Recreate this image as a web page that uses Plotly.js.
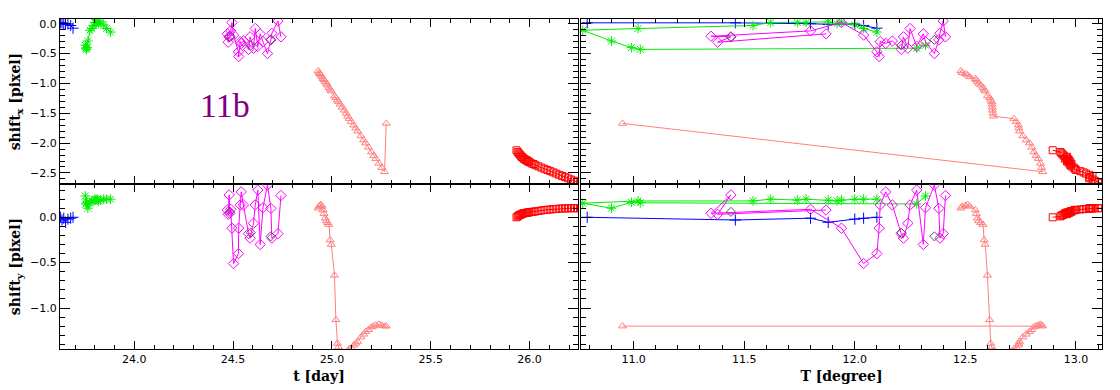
<!DOCTYPE html>
<html><head><meta charset="utf-8">
<script src="https://cdn.plot.ly/plotly-3.0.1.min.js"></script>
<style>html,body{margin:0;padding:0;background:#fff}#chart{width:1120px;height:390px}</style>
</head><body><div id="chart"></div>
<script>
// ---- blue (+) ----
const blueDay = [23.626, 23.634, 23.643, 23.652, 23.664, 23.678, 23.690];
const blueDeg = [10.79, 11.46, 11.80, 11.88, 12.00, 12.04, 12.10];
const blueSx  = [0.015, 0.015, 0.00, -0.01, -0.005, -0.03, -0.075];
const blueSy  = [0.00, -0.03, -0.01, -0.055, -0.02, -0.01, 0.00];

// ---- green (*) ----
const greenDay = [23.752, 23.755, 23.758, 23.761, 23.765, 23.775, 23.785, 23.795, 23.800, 23.805, 23.810, 23.815, 23.820, 23.830, 23.845, 23.860, 23.880];
const greenDeg = [12.32, 12.28, 11.03, 10.99, 10.90, 10.77, 11.02, 11.54, 11.62, 11.74, 11.78, 11.88, 11.92, 11.94, 12.00, 12.04, 12.10];
const greenSx  = [-0.36, -0.41, -0.43, -0.40, -0.29, -0.11, -0.08, -0.03, 0.02, 0.02, 0.02, 0.03, 0.00, 0.03, -0.02, -0.08, -0.14];
const greenSy  = [0.235, 0.147, 0.16, 0.165, 0.10, 0.155, 0.18, 0.18, 0.20, 0.19, 0.20, 0.19, 0.18, 0.19, 0.20, 0.20, 0.20];

// ---- magenta (diamond) ----
const magDay = [24.471, 24.475, 24.480, 24.483, 24.488, 24.494, 24.502, 24.527, 24.528, 24.536, 24.541, 24.552, 24.578, 24.586, 24.603, 24.612, 24.625, 24.637, 24.651, 24.674, 24.691, 24.696, 24.727, 24.742];
const magDeg = [11.87, 11.38, 11.44, 11.35, 11.80, 11.94, 12.04, 12.10, 12.11, 12.115, 12.14, 12.17, 12.21, 12.22, 12.24, 12.25, 12.28, 12.31, 12.32, 12.36, 12.38, 12.385, 12.40, 12.41];
const magSx  = [-0.17, -0.31, -0.22, -0.21, -0.12, 0.02, -0.19, -0.47, -0.55, -0.30, -0.33, -0.29, -0.43, -0.22, -0.41, -0.08, -0.38, -0.17, -0.30, -0.50, -0.27, -0.16, 0.045, -0.22];
const magSy  = [0.08, 0.033, 0.246, 0.044, 0.088, -0.12, -0.51, -0.40, -0.12, 0.136, 0.28, 0.136, -0.18, -0.23, -0.066, 0.136, 0.30, -0.30, 0.106, 0.356, 0.098, -0.23, -0.18, 0.24];

// ---- dark grey (diamond) ----
const grayDay = [24.484, 24.590, 24.690];
const grayDeg = [11.44, 12.21, 12.36];
const graySx  = [-0.22, -0.36, -0.27];
const graySy  = [0.06, -0.17, -0.21];

// ---- salmon (triangle) ----
const salDay = [24.930, 24.935, 24.940, 24.944, 24.950, 24.955, 24.960, 24.966, 24.972, 24.978, 24.985, 24.991, 24.997, 25.013, 25.020, 25.028, 25.033, 25.042, 25.052, 25.062, 25.072, 25.080, 25.088, 25.098, 25.110, 25.120, 25.130, 25.147, 25.160, 25.171, 25.185, 25.200, 25.212, 25.222, 25.238, 25.252, 25.266, 25.275];
const salDeg = [12.48, 12.485, 12.50, 12.51, 12.52, 12.545, 12.55, 12.555, 12.56, 12.57, 12.58, 12.585, 12.59, 12.60, 12.61, 12.615, 12.62, 12.62, 12.622, 12.623, 12.625, 12.627, 12.72, 12.73, 12.74, 12.742, 12.745, 12.76, 12.775, 12.79, 12.80, 12.81, 12.82, 12.83, 12.84, 12.845, 12.85, 10.95];
const salSx  = [-0.79, -0.82, -0.84, -0.86, -0.89, -0.92, -0.94, -0.97, -1.00, -1.03, -1.07, -1.10, -1.13, -1.21, -1.24, -1.28, -1.31, -1.35, -1.40, -1.45, -1.50, -1.55, -1.59, -1.64, -1.70, -1.75, -1.80, -1.88, -1.95, -2.00, -2.07, -2.15, -2.21, -2.26, -2.34, -2.41, -2.48, -1.67];
const salSy  = [0.10, 0.12, 0.13, 0.14, 0.12, 0.08, 0.04, -0.01, -0.04, -0.06, -0.08, -0.25, -0.30, -0.64, -1.13, -1.39, -1.43, -1.49, -1.52, -1.51, -1.49, -1.47, -1.45, -1.44, -1.41, -1.39, -1.37, -1.32, -1.29, -1.26, -1.24, -1.21, -1.20, -1.19, -1.18, -1.19, -1.20, -1.20];

// ---- red (square) ----
const redDay = [25.934, 25.940, 25.945, 25.950, 25.955, 25.960, 25.965, 25.970, 25.975, 25.980, 25.985, 25.990, 25.995, 26.000, 26.010, 26.020, 26.030, 26.045, 26.060, 26.075, 26.090, 26.105, 26.120, 26.135, 26.150, 26.165, 26.180, 26.195, 26.210, 26.225, 26.240, 26.255];
const redDeg = [12.895, 12.93, 12.935, 12.94, 12.945, 12.96, 12.955, 12.95, 12.965, 12.96, 12.97, 12.965, 12.96, 12.975, 12.97, 12.98, 12.975, 12.98, 12.99, 12.995, 13.00, 13.02, 13.035, 13.045, 13.06, 13.075, 13.065, 13.06, 13.075, 13.085, 13.10, 13.115];
const redSx  = [-2.12, -2.15, -2.17, -2.19, -2.21, -2.23, -2.24, -2.26, -2.27, -2.28, -2.29, -2.30, -2.31, -2.32, -2.34, -2.35, -2.37, -2.39, -2.41, -2.43, -2.45, -2.47, -2.49, -2.51, -2.53, -2.55, -2.57, -2.59, -2.61, -2.63, -2.65, -2.67];
const redSy  = [0.00, 0.01, 0.02, 0.025, 0.03, 0.035, 0.04, 0.044, 0.046, 0.048, 0.05, 0.052, 0.054, 0.056, 0.059, 0.062, 0.065, 0.07, 0.075, 0.08, 0.083, 0.086, 0.09, 0.092, 0.095, 0.097, 0.098, 0.099, 0.10, 0.10, 0.10, 0.10];

// ---- texts ----
const xTitleDay = 't [day]';
const xTitleDeg = 'T [degree]';
const yTitleSx = 'shift<sub>x</sub> [pixel]';
const yTitleSy = 'shift<sub>y</sub> [pixel]';
const panelLabel = '11b';

const series = [
  {day: blueDay, deg: blueDeg, sx: blueSx, sy: blueSy, color: '#0000ff', symbol: 'cross-thin-open', size: 8, mode: 'lines+markers'},
  {day: greenDay, deg: greenDeg, sx: greenSx, sy: greenSy, color: '#00ee00', symbol: 'asterisk-open', size: 8, mode: 'lines+markers'},
  {day: magDay, deg: magDeg, sx: magSx, sy: magSy, color: '#ff00ff', symbol: 'diamond-open', size: 8, mode: 'lines+markers'},
  {day: grayDay, deg: grayDeg, sx: graySx, sy: graySy, color: '#555555', symbol: 'diamond-open', size: 7, mode: 'markers'},
  {day: salDay, deg: salDeg, sx: salSx, sy: salSy, color: '#ff8080', symbol: 'triangle-up-open', size: 7, mode: 'lines+markers'},
  {day: redDay, deg: redDeg, sx: redSx, sy: redSy, color: '#ff0000', symbol: 'square-open', size: 7, mode: 'lines+markers'}
];

const traces = [];
const panels = [
  {xk: 'day', yk: 'sx', xa: 'x',  ya: 'y'},
  {xk: 'deg', yk: 'sx', xa: 'x2', ya: 'y2'},
  {xk: 'day', yk: 'sy', xa: 'x3', ya: 'y3'},
  {xk: 'deg', yk: 'sy', xa: 'x4', ya: 'y4'}
];
panels.forEach(p => {
  series.forEach(s => {
    traces.push({
      type: 'scatter', mode: s.mode,
      x: s[p.xk], y: s[p.yk], xaxis: p.xa, yaxis: p.ya,
      line: {color: s.color, width: 1},
      marker: {symbol: s.symbol, size: s.size, color: s.color, line: {color: s.color, width: 1}},
      hoverinfo: 'skip', showlegend: false
    });
  });
});

const tickFont = {family: 'DejaVu Sans', size: 11, color: '#000'};
const titleFont = {family: 'DejaVu Serif', size: 14, color: '#000', weight: 'bold'};
function xax(dom, range, anchor, labels, title) {
  const a = {domain: dom, range: range, anchor: anchor, showline: true, linecolor: '#000', linewidth: 1,
    mirror: 'ticks', ticks: 'inside', ticklen: 8, tickwidth: 1, tickcolor: '#000',
    tick0: 0, dtick: 0.5, tickformat: '.1f', showgrid: false, zeroline: false,
    showticklabels: labels, tickfont: tickFont,
    minor: {ticks: 'inside', ticklen: 4, tickwidth: 1, tickcolor: '#000', tick0: 0, dtick: 0.1, showgrid: false}};
  if (title) a.title = {text: title, font: titleFont, standoff: 5};
  return a;
}
function yax(dom, range, anchor, labels, title) {
  const a = {domain: dom, range: range, anchor: anchor, showline: true, linecolor: '#000', linewidth: 1,
    mirror: 'ticks', ticks: 'inside', ticklen: 10, tickwidth: 1, tickcolor: '#000',
    tick0: 0, dtick: 0.5, tickformat: '.1f', showgrid: false, zeroline: false,
    showticklabels: labels, tickfont: tickFont,
    minor: {ticks: 'inside', ticklen: 5, tickwidth: 1, tickcolor: '#000', tick0: 0, dtick: 0.1, showgrid: false}};
  if (title) a.title = {text: title, font: titleFont, standoff: 6};
  return a;
}
const dayRange = [23.624, 26.245];
const degRange = [10.762, 13.118];
const sxRange = [-2.685, 0.079];
const syRange = [-1.452, 0.367];
const xL = [0, 0.4971], xR = [0.5, 1], yT = [0.5, 1], yB = [0, 0.5];

const layout = {
  width: 1120, height: 390,
  margin: {l: 60, r: 18, t: 19, b: 41},
  paper_bgcolor: '#fff', plot_bgcolor: '#fff', showlegend: false,
  xaxis:  xax(xL, dayRange, 'y', false, null),
  yaxis:  yax(yT, sxRange, 'x', true, yTitleSx),
  xaxis2: xax(xR, degRange, 'y2', false, null),
  yaxis2: yax(yT, sxRange, 'x2', false, null),
  xaxis3: xax(xL, dayRange, 'y3', true, xTitleDay),
  yaxis3: yax(yB, syRange, 'x3', true, yTitleSy),
  xaxis4: xax(xR, degRange, 'y4', true, xTitleDeg),
  yaxis4: yax(yB, syRange, 'x4', false, null),
  annotations: [{text: panelLabel, xref: 'paper', yref: 'paper', x: 0.1583, y: 0.7364,
    xanchor: 'center', yanchor: 'middle', showarrow: false,
    font: {family: 'Liberation Serif', size: 34, color: '#800080'}}]
};
Plotly.newPlot('chart', traces, layout, {staticPlot: true, displayModeBar: false});
</script></body></html>
